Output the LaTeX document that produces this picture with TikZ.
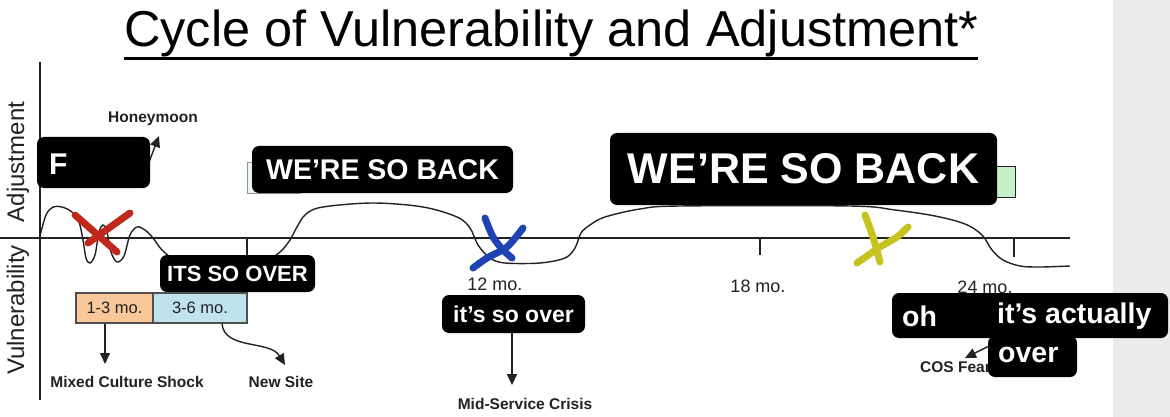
\documentclass[tikz,border=0pt]{standalone}
\usepackage{fontspec}
\setmainfont{Liberation Sans}
\usetikzlibrary{arrows.meta}
\definecolor{gstrip}{HTML}{EBEBEB}
\definecolor{orangebox}{HTML}{F8C89A}
\definecolor{bluebox}{HTML}{BEE3EA}
\definecolor{greenA}{HTML}{EEF7EE}
\definecolor{greenAline}{HTML}{8A9A8A}
\definecolor{greenB}{HTML}{C8F0C8}
\definecolor{redx}{HTML}{C0281E}
\definecolor{bluex}{HTML}{1E44B4}
\definecolor{yellowx}{HTML}{C6C21E}
\definecolor{ink}{HTML}{222222}
\newcommand{\fsz}[1]{\fontsize{#1}{#1}\selectfont}
\begin{document}
\begin{tikzpicture}[x=1pt,y=-1pt,
  blackbox/.style={fill=black, rounded corners=7pt, inner sep=0pt, text=white},
  smalllab/.style={text=ink, font=\fsz{15.5}\bfseries, inner sep=0pt},
  ticklab/.style={text=ink, font=\fsz{18}, inner sep=0pt},
  arr/.style={draw=ink, line width=1.4pt, -{Triangle[length=11pt,width=10pt]}},
  penmark/.style={line width=7pt, line cap=round, line join=round},
  durbox/.style={draw=ink!80, line width=1.2pt, minimum height=30pt, inner sep=0pt, font=\fsz{16.5}, text=ink}]
\useasboundingbox (0,0) rectangle (1170,417);
\fill[white] (0,0) rectangle (1170,417);
\fill[gstrip] (1113,0) rectangle (1170,417);

% title
\node[anchor=base west, font=\fsz{50.5}, inner sep=0pt] (title) at (124,47) {Cycle of Vulnerability and Adjustment*};
\draw[line width=3pt] (title.base west |- 0,58.5) -- (978,58.5);

% axes
\draw[line width=1.3pt, ink] (40,62) -- (40,400);
\draw[line width=1.7pt, ink] (0,238) -- (1070,238);
\node[rotate=90, font=\fsz{24}, text=ink] (adj) at (18,162) {Adjustment};
\node[rotate=90, font=\fsz{24}, text=ink] (vul) at (18,310) {Vulnerability};

% ticks
\draw[line width=1.3pt, ink] (247,238) -- (247,256);
\draw[line width=1.3pt, ink] (760,238) -- (760,255);
\draw[line width=1.3pt, ink] (1014,238) -- (1014,257);
\node[ticklab] (t12) at (495,284) {12 mo.};
\node[ticklab] (t18) at (758,286) {18 mo.};
\node[ticklab] (t24) at (985,287) {24 mo.};

% curve
\draw[line width=1.4pt, ink] plot[smooth, tension=0.55] coordinates {
 (40,236) (46,215) (53,207) (62,207) (72,212) (79,222) (83,240) (86,258) (90,263)
 (95,255) (99,232) (103,225) (107,232) (111,252) (117,262) (124,256) (130,235)
 (137,227) (145,230) (153,238) (162,250) (175,260) (190,264) (230,264) (265,260)
 (280,252) (290,240) (297,227) (306,214) (323,207) (373,203) (423,207) (457,217)
 (470,228) (478,245) (490,258) (505,263) (540,263) (565,258) (575,248) (581,233)
 (590,225) (605,217) (640,209) (680,206) (850,206) (895,210) (935,216) (965,224)
 (982,235) (992,250) (1003,260) (1020,266) (1040,267) (1070,266)};

% honeymoon
\node[smalllab] (honey) at (153,119) {Honeymoon};
\coordinate (hmTip) at (159,136);
\draw[arr] (146,170) -- (hmTip);

% green rectangles
\draw[fill=greenA, draw=greenAline, line width=1pt] (247,163) rectangle (300,193);
\draw[fill=greenB, draw=ink, line width=1pt] (950,167) rectangle (1015,197);

% black boxes
\node[blackbox, minimum width=113pt, minimum height=51pt] (fbox) at (93.5,162.5) {};
\node[anchor=west, text=white, font=\fsz{30}\bfseries, inner sep=0pt] (ftext) at (49,164) {F};
\node[blackbox, minimum width=261pt, minimum height=47pt, font=\fsz{28.5}\bfseries] (back1) at (382.5,169.5) {WE’RE SO BACK};
\node[blackbox, minimum width=387pt, minimum height=72pt, font=\fsz{43}\bfseries] (back2) at (803.5,169) {WE’RE SO BACK};
\node[blackbox, minimum width=155pt, minimum height=37pt, font=\fsz{22}\bfseries] (over1) at (237.5,273.5) {ITS SO OVER};

% duration boxes
\node[durbox, fill=orangebox, minimum width=77pt] (b13) at (114.5,308) {1-3 mo.};
\node[durbox, fill=bluebox, minimum width=94pt] (b36) at (200,308) {3-6 mo.};
\node[smalllab] (mcs) at (127,382) {Mixed Culture Shock};
\node[smalllab] (ns) at (281,382) {New Site};
\coordinate (mcsTip) at (105,364);
\draw[arr] (b13.south -| mcsTip) -- (mcsTip);
\coordinate (nsTip) at (285,365);
\draw[arr] (b36.south -| 222,0) .. controls (224,350) and (270,340) .. (nsTip);

% mid-service
\node[blackbox, minimum width=143pt, minimum height=38pt, font=\fsz{23}\bfseries] (over2) at (513.5,314) {it’s so over};
\node[smalllab] (msc) at (525,404) {Mid-Service Crisis};
\coordinate (msTip) at (512,385);
\draw[arr] (over2.south -| msTip) -- (msTip);

% COS fears
\node[smalllab, anchor=west] (cos) at (920,367) {COS Fears};
\coordinate (cosTip) at (965,358);
\coordinate (cosStart) at (995,343);
\draw[arr] (cosStart) -- (cosTip);
\node[blackbox, minimum width=276pt, minimum height=45pt] (ohbox) at (1030,315.5) {};
\node[blackbox, minimum width=89pt, minimum height=41pt] (overbox) at (1032.5,356.5) {};
\node[anchor=west, text=white, font=\fsz{28.5}\bfseries, inner sep=0pt] (oh) at (902,316) {oh};
\node[anchor=west, text=white, font=\fsz{28.5}\bfseries, inner sep=0pt] (actually) at (997,316) {it’s actually};
\node[anchor=west, text=white, font=\fsz{28.5}\bfseries, inner sep=0pt] (overw) at (998,355) {over};

% marks
\draw[penmark, redx] (75,215) -- (117,252);
\draw[penmark, redx] (130,213) -- (88,243);
\draw[penmark, bluex] plot[smooth] coordinates {(485,218) (493,237) (503,250) (512,258)};
\draw[penmark, bluex] plot[smooth] coordinates {(523,228) (507,247) (487,258) (473,268)};
\draw[penmark, yellowx] plot[smooth] coordinates {(865,215) (873,237) (880,262)};
\draw[penmark, yellowx] plot[smooth] coordinates {(908,227) (897,237) (880,247) (857,263)};
\end{tikzpicture}
\end{document}
